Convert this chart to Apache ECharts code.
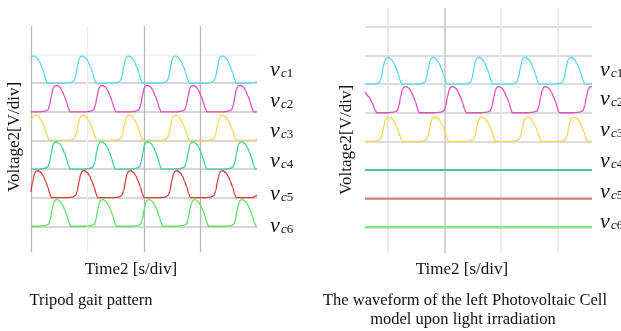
<!DOCTYPE html>
<html><head><meta charset="utf-8">
<script src="https://cdn.jsdelivr.net/npm/echarts@6/dist/echarts.min.js"></script>
<style>html,body{margin:0;padding:0;background:#fff}#c{width:621px;height:331px}</style>
</head><body><div id="c"></div>
<script>
// Left panel: Tripod gait pattern (time in 0.1 div units, voltage in div)
const vc1L = [[0,0.9],[0.2,0.94],[0.6,0.95],[1.1,0.88],[1.5,0.76],[1.9,0.57],[2.3,0.36],[2.6,0.14],[2.9,0],
[6.0,0],[7.0,0.02],[7.6,0.08],[7.9,0.24],[8.2,0.57],[8.5,0.84],[8.8,0.94],[9.2,0.95],[9.7,0.88],[10.1,0.76],[10.5,0.57],[10.9,0.36],[11.2,0.14],[11.5,0],
[14.2,0],[15.2,0.02],[15.8,0.08],[16.1,0.24],[16.4,0.57],[16.7,0.84],[17.0,0.94],[17.4,0.95],[17.9,0.88],[18.3,0.76],[18.7,0.57],[19.1,0.36],[19.4,0.14],[19.7,0],
[22.5,0],[23.5,0.02],[24.1,0.08],[24.4,0.24],[24.7,0.57],[25.0,0.84],[25.3,0.94],[25.7,0.95],[26.2,0.88],[26.6,0.76],[27.0,0.57],[27.4,0.36],[27.7,0.14],[28.0,0],
[30.8,0],[31.8,0.02],[32.4,0.08],[32.7,0.24],[33.0,0.57],[33.3,0.84],[33.6,0.94],[34.0,0.95],[34.5,0.88],[34.9,0.76],[35.3,0.57],[35.7,0.36],[36.0,0.14],[36.3,0],
[39.0,0],[40,0.06]];
const vc2L = [[0,0],
[1.4,0],[2.4,0.02],[3.0,0.07],[3.3,0.23],[3.6,0.55],[3.9,0.81],[4.2,0.91],[4.6,0.92],[5.1,0.86],[5.5,0.74],[5.9,0.55],[6.3,0.35],[6.6,0.14],[6.9,0],
[9.5,0],[10.5,0.02],[11.1,0.07],[11.4,0.23],[11.7,0.55],[12.0,0.81],[12.3,0.91],[12.7,0.92],[13.2,0.86],[13.6,0.74],[14.0,0.55],[14.4,0.35],[14.7,0.14],[15.0,0],
[17.5,0],[18.5,0.02],[19.1,0.07],[19.4,0.23],[19.7,0.55],[20.0,0.81],[20.3,0.91],[20.7,0.92],[21.2,0.86],[21.6,0.74],[22.0,0.55],[22.4,0.35],[22.7,0.14],[23.0,0],
[25.6,0],[26.6,0.02],[27.2,0.07],[27.5,0.23],[27.8,0.55],[28.1,0.81],[28.4,0.91],[28.8,0.92],[29.3,0.86],[29.7,0.74],[30.1,0.55],[30.5,0.35],[30.8,0.14],[31.1,0],
[33.9,0],[34.9,0.02],[35.5,0.07],[35.8,0.23],[36.1,0.55],[36.4,0.81],[36.7,0.91],[37.1,0.92],[37.6,0.86],[38.0,0.74],[38.4,0.55],[38.8,0.35],[39.1,0.14],[39.4,0],
[40,0]];
const vc3L = [[0,0.68],[0.2,0.77],[0.5,0.87],[0.9,0.88],[1.4,0.82],[1.8,0.7],[2.2,0.53],[2.6,0.33],[2.9,0.13],[3.2,0],
[6.1,0],[7.1,0.02],[7.7,0.07],[8.0,0.22],[8.3,0.53],[8.6,0.77],[8.9,0.87],[9.3,0.88],[9.8,0.82],[10.2,0.7],[10.6,0.53],[11.0,0.33],[11.3,0.13],[11.6,0],
[14.3,0],[15.3,0.02],[15.9,0.07],[16.2,0.22],[16.5,0.53],[16.8,0.77],[17.1,0.87],[17.5,0.88],[18.0,0.82],[18.4,0.7],[18.8,0.53],[19.2,0.33],[19.5,0.13],[19.8,0],
[22.5,0],[23.5,0.02],[24.1,0.07],[24.4,0.22],[24.7,0.53],[25.0,0.77],[25.3,0.87],[25.7,0.88],[26.2,0.82],[26.6,0.7],[27.0,0.53],[27.4,0.33],[27.7,0.13],[28.0,0],
[30.8,0],[31.8,0.02],[32.4,0.07],[32.7,0.22],[33.0,0.53],[33.3,0.77],[33.6,0.87],[34.0,0.88],[34.5,0.82],[34.9,0.7],[35.3,0.53],[35.7,0.33],[36.0,0.13],[36.3,0],
[39.0,0],[40,0.04]];
const vc4L = [[0,0],
[1.4,0],[2.4,0.02],[3.0,0.08],[3.3,0.24],[3.6,0.57],[3.9,0.84],[4.2,0.94],[4.6,0.95],[5.1,0.88],[5.5,0.76],[5.9,0.57],[6.3,0.36],[6.6,0.14],[6.9,0],
[9.4,0],[10.4,0.02],[11.0,0.08],[11.3,0.24],[11.6,0.57],[11.9,0.84],[12.2,0.94],[12.6,0.95],[13.1,0.88],[13.5,0.76],[13.9,0.57],[14.3,0.36],[14.6,0.14],[14.9,0],
[17.6,0],[18.6,0.02],[19.2,0.08],[19.5,0.24],[19.8,0.57],[20.1,0.84],[20.4,0.94],[20.8,0.95],[21.3,0.88],[21.7,0.76],[22.1,0.57],[22.5,0.36],[22.8,0.14],[23.1,0],
[25.6,0],[26.6,0.02],[27.2,0.08],[27.5,0.24],[27.8,0.57],[28.1,0.84],[28.4,0.94],[28.8,0.95],[29.3,0.88],[29.7,0.76],[30.1,0.57],[30.5,0.36],[30.8,0.14],[31.1,0],
[34.2,0],[35.2,0.02],[35.8,0.08],[36.1,0.24],[36.4,0.57],[36.7,0.84],[37.0,0.94],[37.4,0.95],[37.9,0.88],[38.3,0.76],[38.7,0.57],[39.1,0.36],[39.4,0.14],[39.7,0],
[40,0]];
const vc5L = [[0,0.2],[0.3,0.56],[0.6,0.83],[0.9,0.93],[1.3,0.94],[1.8,0.87],[2.2,0.75],[2.6,0.56],[3.0,0.36],[3.3,0.14],[3.6,0],
[6.3,0],[7.3,0.02],[7.9,0.08],[8.2,0.24],[8.5,0.56],[8.8,0.83],[9.1,0.93],[9.5,0.94],[10.0,0.87],[10.4,0.75],[10.8,0.56],[11.2,0.36],[11.5,0.14],[11.8,0],
[14.5,0],[15.5,0.02],[16.1,0.08],[16.4,0.24],[16.7,0.56],[17.0,0.83],[17.3,0.93],[17.7,0.94],[18.2,0.87],[18.6,0.75],[19.0,0.56],[19.4,0.36],[19.7,0.14],[20.0,0],
[22.7,0],[23.7,0.02],[24.3,0.08],[24.6,0.24],[24.9,0.56],[25.2,0.83],[25.5,0.93],[25.9,0.94],[26.4,0.87],[26.8,0.75],[27.2,0.56],[27.6,0.36],[27.9,0.14],[28.2,0],
[30.8,0],[31.8,0.02],[32.4,0.08],[32.7,0.24],[33.0,0.56],[33.3,0.83],[33.6,0.93],[34.0,0.94],[34.5,0.87],[34.9,0.75],[35.3,0.56],[35.7,0.36],[36.0,0.14],[36.3,0],
[39.0,0],[40,0.08]];
const vc6L = [[0,0],
[1.5,0],[2.5,0.02],[3.1,0.07],[3.4,0.23],[3.7,0.56],[4.0,0.82],[4.3,0.92],[4.7,0.93],[5.2,0.86],[5.6,0.74],[6.0,0.56],[6.4,0.35],[6.7,0.14],[7.0,0],
[9.6,0],[10.6,0.02],[11.2,0.07],[11.5,0.23],[11.8,0.56],[12.1,0.82],[12.4,0.92],[12.8,0.93],[13.3,0.86],[13.7,0.74],[14.1,0.56],[14.5,0.35],[14.8,0.14],[15.1,0],
[17.8,0],[18.8,0.02],[19.4,0.07],[19.7,0.23],[20.0,0.56],[20.3,0.82],[20.6,0.92],[21.0,0.93],[21.5,0.86],[21.9,0.74],[22.3,0.56],[22.7,0.35],[23.0,0.14],[23.3,0],
[25.9,0],[26.9,0.02],[27.5,0.07],[27.8,0.23],[28.1,0.56],[28.4,0.82],[28.7,0.92],[29.1,0.93],[29.6,0.86],[30.0,0.74],[30.4,0.56],[30.8,0.35],[31.1,0.14],[31.4,0],
[34.3,0],[35.3,0.02],[35.9,0.07],[36.2,0.23],[36.5,0.56],[36.8,0.82],[37.1,0.92],[37.5,0.93],[38.0,0.86],[38.4,0.74],[38.8,0.56],[39.2,0.35],[39.5,0.14],[39.8,0],
[40,0]];

// Right panel: left photovoltaic cell model upon light irradiation
const vc1R = [[5.9,0],
[6.9,0],[7.9,0.02],[8.5,0.07],[8.8,0.23],[9.1,0.56],[9.4,0.82],[9.7,0.92],[10.1,0.93],[10.6,0.86],[11.0,0.74],[11.4,0.56],[11.8,0.35],[12.1,0.14],[12.4,0],
[14.9,0],[15.9,0.02],[16.5,0.07],[16.8,0.23],[17.1,0.56],[17.4,0.82],[17.7,0.92],[18.1,0.93],[18.6,0.86],[19.0,0.74],[19.4,0.56],[19.8,0.35],[20.1,0.14],[20.4,0],
[23.0,0],[24.0,0.02],[24.6,0.07],[24.9,0.23],[25.2,0.56],[25.5,0.82],[25.8,0.92],[26.2,0.93],[26.7,0.86],[27.1,0.74],[27.5,0.56],[27.9,0.35],[28.2,0.14],[28.5,0],
[31.2,0],[32.2,0.02],[32.8,0.07],[33.1,0.23],[33.4,0.56],[33.7,0.82],[34.0,0.92],[34.4,0.93],[34.9,0.86],[35.3,0.74],[35.7,0.56],[36.1,0.35],[36.4,0.14],[36.7,0],
[39.3,0],[40.3,0.02],[40.9,0.07],[41.2,0.23],[41.5,0.56],[41.8,0.82],[42.1,0.92],[42.5,0.93],[43.0,0.86],[43.4,0.74],[43.8,0.56],[44.2,0.35],[44.5,0.14],[44.8,0],
[46.1,0]];
const vc2R = [[5.9,0.73],[6.6,0.56],[7.2,0.35],[7.6,0.13],[8.0,0],
[10.0,0],[11.0,0.02],[11.6,0.07],[11.9,0.23],[12.2,0.55],[12.5,0.8],[12.8,0.9],[13.2,0.91],[13.7,0.85],[14.1,0.73],[14.5,0.55],[14.9,0.35],[15.2,0.14],[15.5,0],
[18.3,0],[19.3,0.02],[19.9,0.07],[20.2,0.23],[20.5,0.55],[20.8,0.8],[21.1,0.9],[21.5,0.91],[22.0,0.85],[22.4,0.73],[22.8,0.55],[23.2,0.35],[23.5,0.14],[23.8,0],
[26.5,0],[27.5,0.02],[28.1,0.07],[28.4,0.23],[28.7,0.55],[29.0,0.8],[29.3,0.9],[29.7,0.91],[30.2,0.85],[30.6,0.73],[31.0,0.55],[31.4,0.35],[31.7,0.14],[32.0,0],
[34.8,0],[35.8,0.02],[36.4,0.07],[36.7,0.23],[37.0,0.55],[37.3,0.8],[37.6,0.9],[38.0,0.91],[38.5,0.85],[38.9,0.73],[39.3,0.55],[39.7,0.35],[40.0,0.14],[40.3,0],
[42.9,0],[43.9,0.02],[44.5,0.07],[44.8,0.23],[45.1,0.55],[45.4,0.8],[45.7,0.9],[46.1,0.91]];
const vc3R = [[5.9,0],
[7.0,0],[8.0,0.02],[8.6,0.07],[8.9,0.21],[9.2,0.51],[9.5,0.75],[9.8,0.84],[10.2,0.85],[10.7,0.79],[11.1,0.68],[11.5,0.51],[11.9,0.32],[12.2,0.13],[12.5,0],
[15.2,0],[16.2,0.02],[16.8,0.07],[17.1,0.21],[17.4,0.51],[17.7,0.75],[18.0,0.84],[18.4,0.85],[18.9,0.79],[19.3,0.68],[19.7,0.51],[20.1,0.32],[20.4,0.13],[20.7,0],
[23.5,0],[24.5,0.02],[25.1,0.07],[25.4,0.21],[25.7,0.51],[26.0,0.75],[26.3,0.84],[26.7,0.85],[27.2,0.79],[27.6,0.68],[28.0,0.51],[28.4,0.32],[28.7,0.13],[29.0,0],
[31.6,0],[32.6,0.02],[33.2,0.07],[33.5,0.21],[33.8,0.51],[34.1,0.75],[34.4,0.84],[34.8,0.85],[35.3,0.79],[35.7,0.68],[36.1,0.51],[36.5,0.32],[36.8,0.13],[37.1,0],
[39.8,0],[40.8,0.02],[41.4,0.07],[41.7,0.21],[42.0,0.51],[42.3,0.75],[42.6,0.84],[43.0,0.85],[43.5,0.79],[43.9,0.68],[44.3,0.51],[44.7,0.32],[45.0,0.13],[45.3,0],
[46.1,0]];
const vc4R = [[5.9,0],[46.1,0]];
const vc5R = [[5.9,0],[46.1,0]];
const vc6R = [[5.9,0],[46.1,0]];

const channelNames = ['1','2','3','4','5','6'];
const leftSeries = [vc1L, vc2L, vc3L, vc4L, vc5L, vc6L];
const rightSeries = [vc1R, vc2R, vc3R, vc4R, vc5R, vc6R];

const colorsL = ['#55d8ef','#e04cbe','#f7d450','#3fcfa3','#d63d3d','#5fe05f'];
const colorsR = ['#55d8ef','#e04cbe','#f7d450','#45c9a0','#e07c7c','#82e682'];

const SERIF = '"Liberation Serif","Times New Roman",serif';

function buildSeries(list, colors, idx, widths) {
  return list.map((d, i) => ({
    type: 'line', xAxisIndex: idx, yAxisIndex: idx,
    data: d.map(p => [p[0], p[1] + (5 - i)]),
    showSymbol: false, silent: true, smooth: 0.25, smoothMonotone: 'x',
    lineStyle: { color: colors[i], width: widths[i] }, z: 3
  }));
}

const series = [].concat(
  buildSeries(leftSeries, colorsL, 0, [1.3,1.3,1.3,1.3,1.3,1.3]),
  buildSeries(rightSeries, colorsR, 1, [1.3,1.3,1.3,2.2,2.2,2.6])
);

function chanLabel(x, y, num) {
  return [
    { type: 'text', x: x, y: y, style: { text: 'v', font: 'italic 22px ' + SERIF, fill: '#111', verticalAlign: 'middle', align: 'left' } },
    { type: 'text', x: x + 11, y: y + 4, style: { text: '{c|c}{n|' + num + '}', fill: '#111', verticalAlign: 'middle', align: 'left',
      rich: { c: { font: 'italic 13px ' + SERIF, fill: '#111' }, n: { font: '13px ' + SERIF, fill: '#111' } } } }
  ];
}
const labelYL = [70, 101, 131, 161, 194, 226];
const labelYR = [70, 99, 130, 161, 192, 222];
let graphics = [];
channelNames.forEach((n, i) => { graphics = graphics.concat(chanLabel(270, labelYL[i], n)); });
channelNames.forEach((n, i) => { graphics = graphics.concat(chanLabel(600, labelYR[i], n)); });
graphics.push(
  { type: 'text', x: 15, y: 137, rotation: Math.PI / 2, style: { text: 'Voltage2[V/div]', font: '17px ' + SERIF, fill: '#111', align: 'center', verticalAlign: 'middle' } },
  { type: 'text', x: 347, y: 140, rotation: Math.PI / 2, style: { text: 'Voltage2[V/div]', font: '17px ' + SERIF, fill: '#111', align: 'center', verticalAlign: 'middle' } },
  { type: 'text', x: 131, y: 270, style: { text: 'Time2 [s/div]', font: '17px ' + SERIF, fill: '#111', align: 'center', verticalAlign: 'middle' } },
  { type: 'text', x: 462, y: 270, style: { text: 'Time2 [s/div]', font: '17px ' + SERIF, fill: '#111', align: 'center', verticalAlign: 'middle' } },
  { type: 'text', x: 91, y: 301, style: { text: 'Tripod gait pattern', font: '16.5px ' + SERIF, fill: '#111', align: 'center', verticalAlign: 'middle' } },
  { type: 'text', x: 465, y: 301, style: { text: 'The waveform of the left Photovoltaic Cell', font: '16.5px ' + SERIF, fill: '#111', align: 'center', verticalAlign: 'middle' } },
  { type: 'text', x: 463, y: 320, style: { text: 'model upon light irradiation', font: '16.5px ' + SERIF, fill: '#111', align: 'center', verticalAlign: 'middle' } }
);

const hidden = { show: false };
const option = {
  animation: false,
  backgroundColor: '#ffffff',
  grid: [
    { left: 31, top: 26, width: 226, height: 226 },
    { left: 365, top: 8, width: 227, height: 245 }
  ],
  xAxis: [
    { type: 'value', gridIndex: 0, min: 0, max: 40, interval: 10,
      axisLine: hidden, axisTick: hidden, axisLabel: hidden,
      splitLine: { show: true, showMaxLine: false, lineStyle: { color: ['#b6b6b6','#ececec','#b6b6b6','#b6b6b6'], width: 1.3 } } },
    { type: 'value', gridIndex: 1, min: 5.9, max: 46.1, splitNumber: 4,
      axisLine: hidden, axisTick: hidden, axisLabel: hidden,
      splitLine: { show: true, showMinLine: false, showMaxLine: false, lineStyle: { color: ['#e2e2e2','#c6c6c6','#e6e6e6','#e6e6e6'], width: 1.5 } } }
  ],
  yAxis: [
    { type: 'value', gridIndex: 0, min: -0.9, max: 7, splitNumber: 8,
      axisLine: hidden, axisTick: hidden, axisLabel: hidden,
      splitLine: { show: true, showMinLine: false, showMaxLine: false, lineStyle: { color: ['#c9c9c9','#c9c9c9','#c9c9c9','#c9c9c9','#c9c9c9','#c9c9c9','#efefef'], width: 1.5 } } },
    { type: 'value', gridIndex: 1, min: -0.9, max: 7.66, splitNumber: 8,
      axisLine: hidden, axisTick: hidden, axisLabel: hidden,
      splitLine: { show: true, showMinLine: false, showMaxLine: false, lineStyle: { color: '#d2d2d2', width: 1.5 } } }
  ],
  series: series,
  graphic: graphics
};
const chart = echarts.init(document.getElementById('c'), null, { renderer: 'canvas' });
chart.setOption(option);
</script></body></html>
